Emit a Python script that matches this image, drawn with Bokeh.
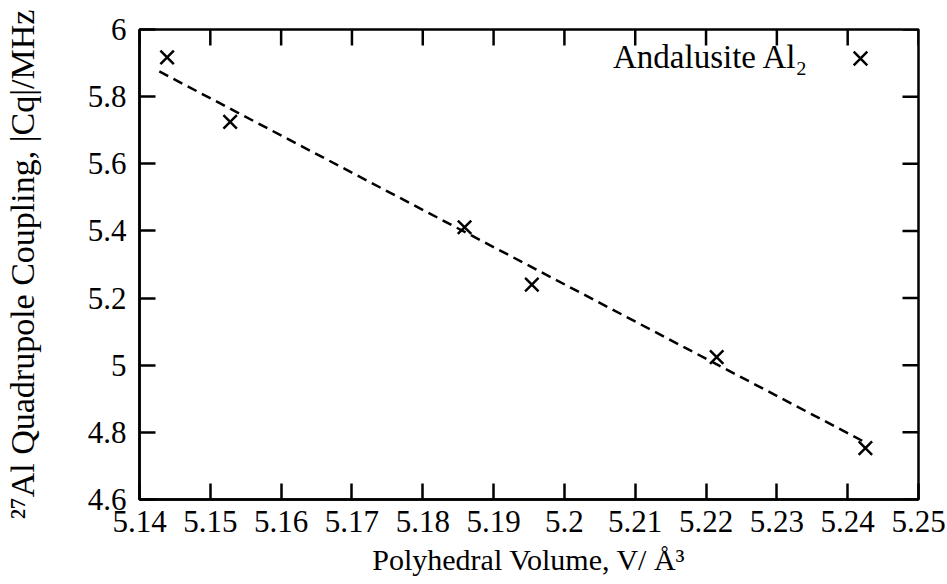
import math
from bokeh.plotting import figure
from bokeh.models import (LinearAxis, FixedTicker, Range1d, Legend, LegendItem, Label)
from bokeh.embed import file_html
from bokeh.resources import INLINE

# Data
volume = [5.1439, 5.1528, 5.1859, 5.1954, 5.2215, 5.2425]
cq = [5.917, 5.725, 5.411, 5.240, 5.024, 4.753]
fit_volume = [5.1428, 5.2425]
fit_cq = [5.875, 4.770]

x_ticks = [5.14, 5.15, 5.16, 5.17, 5.18, 5.19, 5.20, 5.21, 5.22, 5.23, 5.24, 5.25]
x_tick_labels = ["5.14", "5.15", "5.16", "5.17", "5.18", "5.19", "5.2", "5.21", "5.22", "5.23", "5.24", "5.25"]
y_ticks = [4.6, 4.8, 5.0, 5.2, 5.4, 5.6, 5.8, 6.0]
y_tick_labels = ["4.6", "4.8", "5", "5.2", "5.4", "5.6", "5.8", "6"]

series_label = "Andalusite Al\u2082"
x_title = "Polyhedral Volume, V/ \u00c5\u00b3"
y_title = "\u00b2\u2077Al Quadrupole Coupling, |Cq|/MHz"

FONT = "Liberation Serif"
TICK_FS = "31px"
LW = 2.5
TICK_LEN = 16

x_min, x_max = x_ticks[0], x_ticks[-1]
y_min, y_max = y_ticks[0], y_ticks[-1]

p = figure(width=947, height=584, output_backend="svg", toolbar_location=None,
           x_range=Range1d(x_min, x_max), y_range=Range1d(y_min, y_max),
           x_axis_type=None, y_axis_type=None,
           min_border_left=137, min_border_right=29, min_border_top=29, min_border_bottom=85)
p.grid.visible = False
p.outline_line_color = "black"
p.outline_line_width = LW
p.background_fill_color = "white"
p.border_fill_color = "white"


def make_axis(ticks, labels, title):
    ax = LinearAxis(ticker=FixedTicker(ticks=ticks),
                    major_label_overrides={t: l for t, l in zip(ticks, labels)})
    ax.axis_line_color = "black"
    ax.axis_line_width = LW
    ax.major_tick_in = TICK_LEN
    ax.major_tick_out = 0
    ax.major_tick_line_width = LW
    ax.major_tick_line_color = "black"
    ax.minor_tick_line_color = None
    ax.major_label_text_font = FONT
    ax.major_label_text_font_size = TICK_FS
    ax.major_label_text_color = "black"
    ax.axis_label = title
    ax.axis_label_text_font = FONT
    ax.axis_label_text_font_style = "normal"
    ax.axis_label_text_color = "black"
    return ax


xb = make_axis(x_ticks, x_tick_labels, x_title)
xb.major_label_standoff = 11
xb.axis_label_standoff = 8
xb.axis_label_text_font_size = "30px"
yl = make_axis(y_ticks, y_tick_labels, y_title)
yl.major_label_standoff = 13
yl.axis_label_standoff = 44
yl.axis_label_text_font_size = "34px"
p.add_layout(xb, "below")
p.add_layout(yl, "left")

# mirrored inward ticks on the top and right edges
p.ray(x=x_ticks, y=[y_max] * len(x_ticks), length=TICK_LEN, length_units="screen",
      angle=-math.pi / 2, line_color="black", line_width=LW)
p.ray(x=[x_max] * len(y_ticks), y=y_ticks, length=TICK_LEN, length_units="screen",
      angle=math.pi, line_color="black", line_width=LW)

p.line(fit_volume, fit_cq, line_color="black", line_width=LW, line_dash="10 6")
pts = p.scatter(volume, cq, marker="x", size=19, line_color="black", line_width=LW)

legend = Legend(items=[LegendItem(label=" ", renderers=[pts])],
                location=(697, 417), margin=0, padding=0, spacing=0,
                label_standoff=0, glyph_width=48, glyph_height=48,
                label_text_font_size="1px", label_width=0, label_height=0,
                border_line_color=None, background_fill_alpha=0)
p.add_layout(legend, "center")

p.add_layout(Label(x=5.2345, y=5.918, text=series_label, text_align="right",
                   text_baseline="middle", text_font=FONT, text_font_size="33px",
                   text_color="black"))

open("out.html", "w").write(file_html(p, INLINE))
